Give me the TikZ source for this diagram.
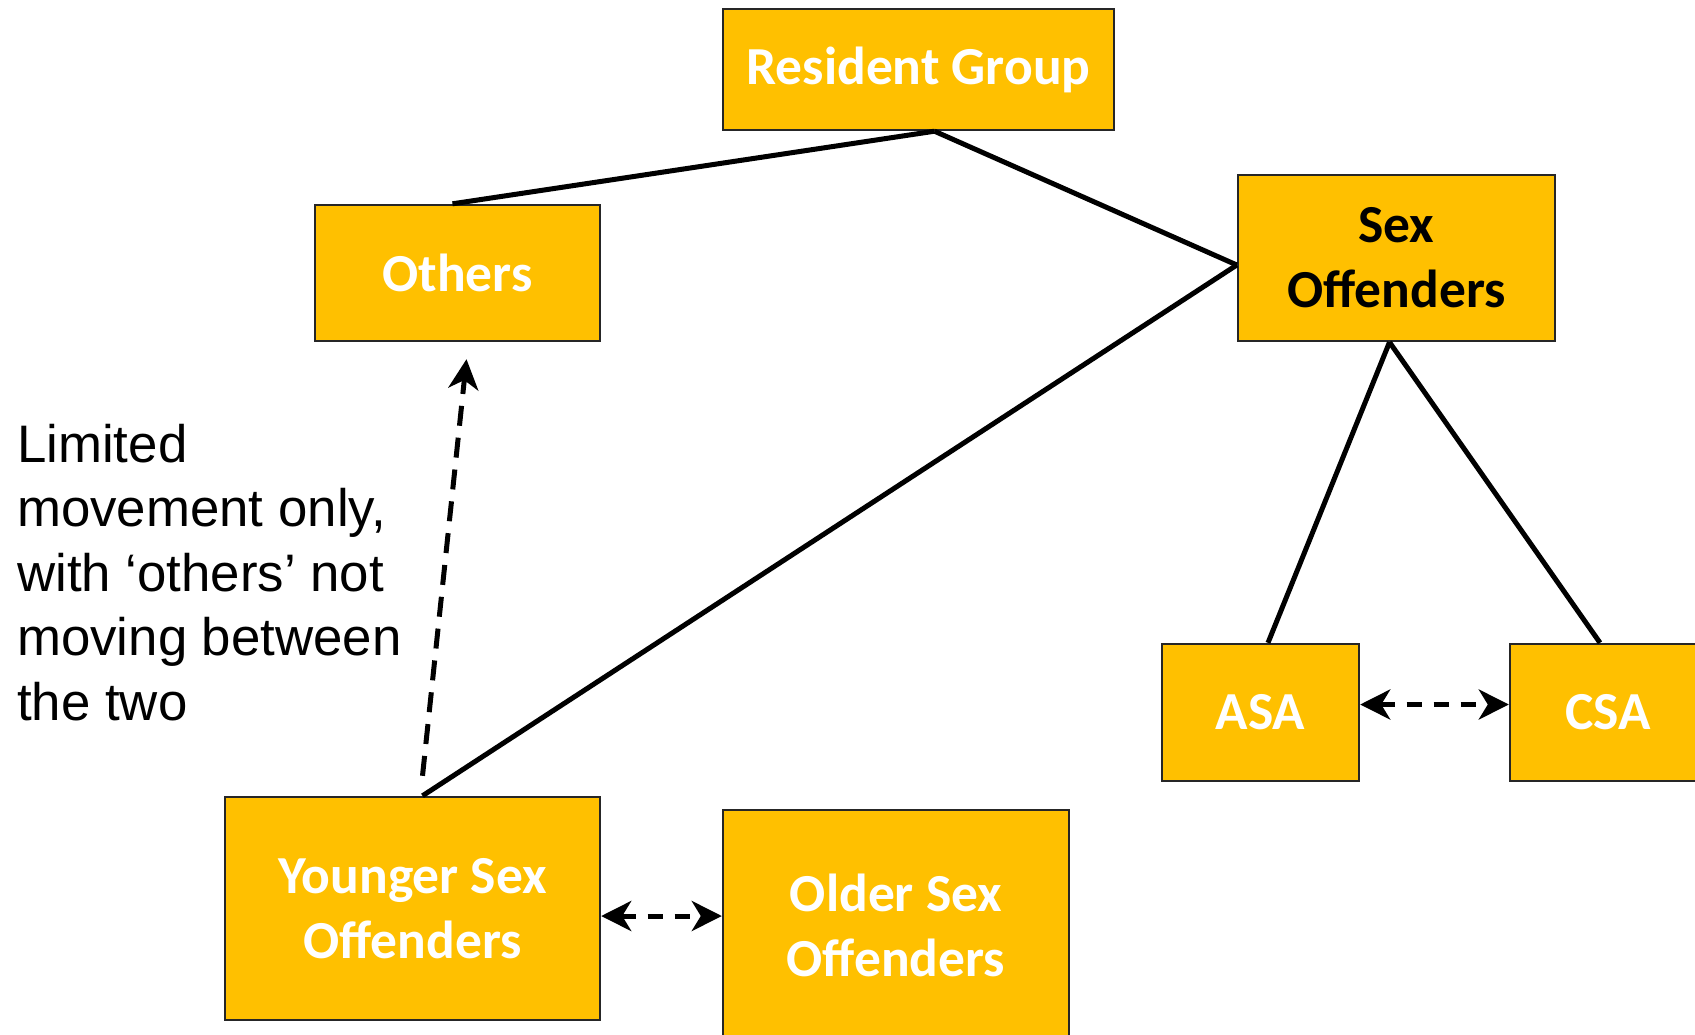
\documentclass[tikz,border=0pt]{standalone}
\usepackage{fontspec}
\setmainfont{Carlito}
\newfontfamily\arialf{Liberation Sans}
\usetikzlibrary{arrows.meta}
\definecolor{boxfill}{HTML}{FFC000}
\tikzset{tipx/.tip={Stealth[length=30pt,width=30pt,inset=9pt]}}
\begin{document}
\begin{tikzpicture}[x=1pt,y=-1pt,
  box/.style={draw=black!85,line width=2.4pt,fill=boxfill,inner sep=0pt,align=center,
    font=\fontsize{53.5}{65}\selectfont\bfseries,text=white},
  conn/.style={line width=5pt},
  darr/.style={line width=5pt,dash pattern=on 15pt off 12pt,tipx-tipx},
  uarr/.style={line width=5pt,dash pattern=on 20pt off 12pt,-tipx}]
\useasboundingbox (0,0) rectangle (1695,1034);
\node[box,minimum width=391pt,minimum height=121pt] (res) at (918.5,69.5) {Resident Group};
\node[box,minimum width=285pt,minimum height=136pt] (oth) at (457.5,273) {Others};
\node[box,minimum width=317pt,minimum height=166pt,text=black] (sex) at (1396.5,258) {Sex\\Offenders};
\node[box,minimum width=197pt,minimum height=137pt] (asa) at (1260.5,712.5) {ASA};
\node[box,minimum width=196pt,minimum height=137pt] (csa) at (1608,712.5) {CSA};
\node[box,minimum width=375pt,minimum height=223pt] (young) at (412.5,908.5) {Younger Sex\\Offenders};
\node[box,minimum width=346pt,minimum height=230pt] (old) at (896,925) {Older Sex\\Offenders};
\node[anchor=north west,inner sep=0pt,align=left,font=\arialf\fontsize{52.8}{64.5}\selectfont] (note) at (17,424)
  {Limited\\movement only,\\with ‘others’ not\\moving between\\the two};
\draw[conn] ([xshift=16pt]res.south) -- ([xshift=-5pt]oth.north);
\draw[conn] ([xshift=16pt]res.south) -- ([yshift=-7pt]sex.west);
\draw[conn] ([yshift=-7pt]sex.west) -- ([xshift=10pt]young.north);
\draw[conn] ([xshift=-7pt]sex.south) -- ([xshift=7.5pt]asa.north);
\draw[conn] ([xshift=-7pt]sex.south) -- ([xshift=-8pt]csa.north);
\draw[darr] ([yshift=8pt]asa.east) -- ([yshift=8pt]csa.west);
\draw[darr] (young.east |- 0,916) -- (old.west |- 0,916);
\draw[uarr] ([xshift=10pt,yshift=20pt]young.north) -- ([xshift=9pt,yshift=-17pt]oth.south);
\end{tikzpicture}
\end{document}
